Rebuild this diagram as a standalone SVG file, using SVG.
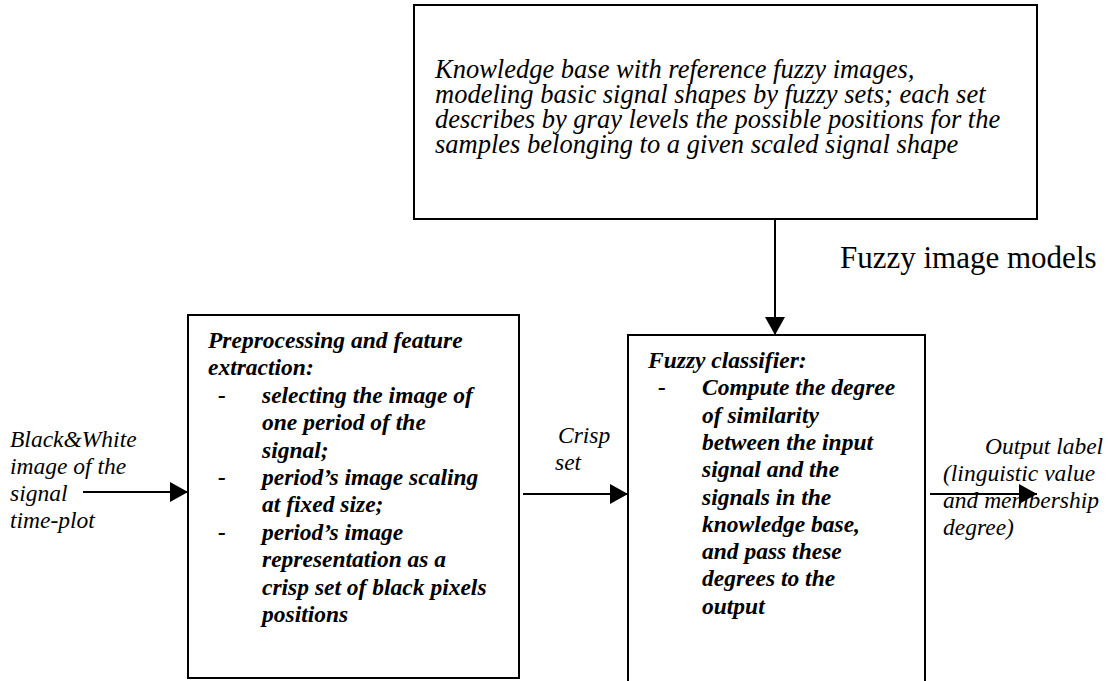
<svg xmlns="http://www.w3.org/2000/svg" width="1108" height="681" viewBox="0 0 1108 681">
<style>
.box{fill:#fff;stroke:#000;stroke-width:2}
.t{font-family:"Liberation Serif","Times New Roman",serif;fill:#000}
.it{font-style:italic}
.bi{font-style:italic;font-weight:bold}
.kb{font-size:26.5px}
.b23{font-size:23.5px}
.lbl{font-size:23.5px}
.big{font-size:31px}
.conn{stroke:#000;stroke-width:2;fill:none}
</style>
<defs>
<marker id="ah" viewBox="0 0 18 20" refX="18" refY="10" markerWidth="18" markerHeight="20" markerUnits="userSpaceOnUse" orient="auto">
<path d="M0,0 L18,10 L0,20 Z" fill="#000"/>
</marker>
</defs>
<rect width="1108" height="681" fill="#fff"/>
<g id="knowledge-base">
<rect class="box" x="414" y="5" width="623" height="214"/>
<text class="t it kb" x="435" y="78">Knowledge base with reference fuzzy images,</text>
<text class="t it kb" x="435" y="103">modeling basic signal shapes by fuzzy sets; each set</text>
<text class="t it kb" x="435" y="128">describes by gray levels the possible positions for the</text>
<text class="t it kb" x="435" y="153">samples belonging to a given scaled signal shape</text>
</g>
<g id="preprocessing">
<rect class="box" x="188" y="315" width="331" height="363"/>
<text class="t bi b23" x="208" y="348">Preprocessing and feature</text>
<text class="t bi b23" x="208" y="375.4">extraction:</text>
<text class="t bi b23" x="218" y="402.8">-</text>
<text class="t bi b23" x="262" y="402.8">selecting the image of</text>
<text class="t bi b23" x="262" y="430.2">one period of the</text>
<text class="t bi b23" x="262" y="457.6">signal;</text>
<text class="t bi b23" x="218" y="485">-</text>
<text class="t bi b23" x="262" y="485">period’s image scaling</text>
<text class="t bi b23" x="262" y="512.4">at fixed size;</text>
<text class="t bi b23" x="218" y="539.8">-</text>
<text class="t bi b23" x="262" y="539.8">period’s image</text>
<text class="t bi b23" x="262" y="567.2">representation as a</text>
<text class="t bi b23" x="262" y="594.6">crisp set of black pixels</text>
<text class="t bi b23" x="262" y="622">positions</text>
</g>
<g id="fuzzy-classifier">
<path class="box" d="M628,682 L628,335 L925,335 L925,682"/>
<text class="t bi b23" x="648" y="368">Fuzzy classifier:</text>
<text class="t bi b23" x="658" y="395.3">-</text>
<text class="t bi b23" x="702" y="395.3">Compute the degree</text>
<text class="t bi b23" x="702" y="422.6">of similarity</text>
<text class="t bi b23" x="702" y="449.9">between the input</text>
<text class="t bi b23" x="702" y="477.2">signal and the</text>
<text class="t bi b23" x="702" y="504.5">signals in the</text>
<text class="t bi b23" x="702" y="531.8">knowledge base,</text>
<text class="t bi b23" x="702" y="559.1">and pass these</text>
<text class="t bi b23" x="702" y="586.4">degrees to the</text>
<text class="t bi b23" x="702" y="613.7">output</text>
</g>
<g id="labels">
<text class="t big" x="840" y="268">Fuzzy image models</text>
<text class="t it lbl" x="10" y="447">Black&amp;White</text>
<text class="t it lbl" x="10" y="474">image of the</text>
<text class="t it lbl" x="10" y="501">signal</text>
<text class="t it lbl" x="10" y="528">time-plot</text>
<text class="t it lbl" x="558" y="443">Crisp</text>
<text class="t it lbl" x="555" y="470">set</text>
<text class="t it lbl" x="985" y="454">Output label</text>
<text class="t it lbl" x="943" y="481">(linguistic value</text>
<text class="t it lbl" x="943" y="508">and membership</text>
<text class="t it lbl" x="943" y="535">degree)</text>
</g>
<g id="connectors">
<line class="conn" x1="775" y1="219" x2="775" y2="335" marker-end="url(#ah)"/>
<line class="conn" x1="83" y1="492" x2="188" y2="492" marker-end="url(#ah)"/>
<line class="conn" x1="523" y1="494" x2="628" y2="494" marker-end="url(#ah)"/>
<line class="conn" x1="930" y1="494" x2="1037" y2="494" marker-end="url(#ah)"/>
</g>
</svg>
